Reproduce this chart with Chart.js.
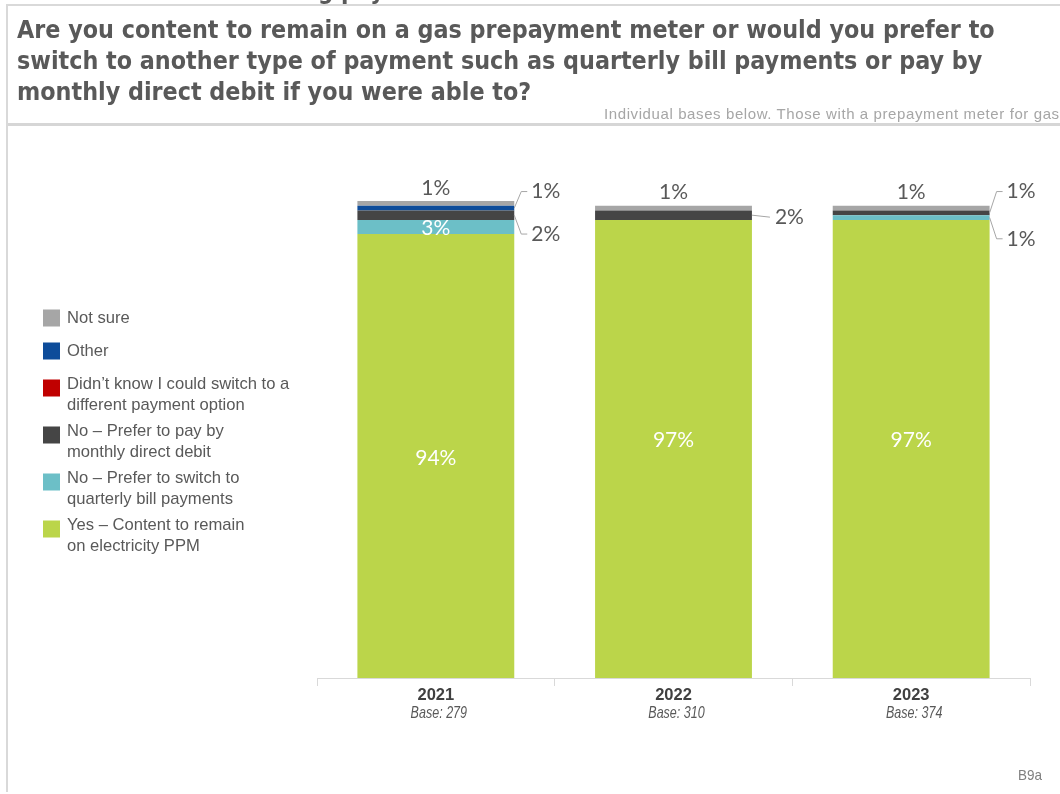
<!DOCTYPE html>
<html>
<head>
<meta charset="utf-8">
<script src="https://cdn.jsdelivr.net/npm/chart.js@4.4.1/dist/chart.umd.min.js"></script>
<style>
  html, body { margin: 0; padding: 0; background: #ffffff; width: 1060px; height: 794px; overflow: hidden; }
  #page { position: relative; width: 1060px; height: 794px; overflow: hidden; }
  #chart { position: absolute; left: 0; top: 0; }
  .frame-top { position: absolute; left: 6px; top: 4px; width: 1054px; height: 2px; background: #d9d9d9; }
  .frame-left { position: absolute; left: 6px; top: 4px; width: 2px; height: 788px; background: #d9d9d9; }
  .rule { position: absolute; left: 8px; top: 123px; width: 1052px; height: 3px; background: #d6d6d6; }
  .prev { position: absolute; left: 318px; top: -24px; white-space: nowrap;
          font-family: "DejaVu Sans Condensed", "DejaVu Sans", sans-serif; font-stretch: condensed;
          font-weight: bold; font-size: 24px; line-height: 31px; color: #595959; }
  .title { position: absolute; left: 17px; top: 14px; width: 1040px; white-space: nowrap;
           font-family: "DejaVu Sans Condensed", "DejaVu Sans", sans-serif; font-stretch: condensed;
           font-weight: bold; font-size: 24.8px; line-height: 31px; color: #595959; }
  .bases-note { position: absolute; left: 604px; top: 105px; white-space: nowrap;
                font-family: "Liberation Sans", Arial, sans-serif; font-size: 15px; letter-spacing: 0.6px; color: #a6a6a6; }
  .slide-code { position: absolute; left: 1018px; top: 766px; transform-origin: 0 0; transform: scaleX(0.9);
                font-family: "Liberation Sans", Arial, sans-serif; font-size: 15px; color: #7f7f7f; }
</style>
</head>
<body>
<div id="page">
  <canvas id="chart" width="1060" height="794"></canvas>
  <div class="prev">g payment</div>
  <div class="frame-top"></div>
  <div class="frame-left"></div>
  <div class="title">Are you content to remain on a gas prepayment meter or would you prefer to<br>switch to another type of payment such as quarterly bill payments or pay by<br>monthly direct debit if you were able to?</div>
  <div class="rule"></div>
  <div class="bases-note">Individual bases below. Those with a prepayment meter for gas</div>
  <div class="slide-code">B9a</div>
</div>
<script>
// Survey waves and their base sizes
const years = ['2021', '2022', '2023'];
const bases = [279, 310, 374];

// Share of respondents (%) per answer, per wave
const contentPPM   = [94, 97, 97];
const quarterly    = [3, 0, 1];
const directDebit  = [2, 2, 1];
const didntKnow    = [0, 0, 0];
const otherAnswer  = [1, 0, 0];
const notSure      = [1, 1, 1];

// Legend wording (bottom of the stack first, matching dataset order)
const answerLabels = [
  ['Yes \u2013 Content to remain', 'on electricity PPM'],
  ['No \u2013 Prefer to switch to', 'quarterly bill payments'],
  ['No \u2013 Prefer to pay by', 'monthly direct debit'],
  ['Didn\u2019t know I could switch to a', 'different payment option'],
  ['Other'],
  ['Not sure']
];
const answerColors = ['#bbd54a', '#6cbfc7', '#454545', '#c00000', '#0d4c9a', '#a6a6a6'];

// Where each value label sits, per dataset and per wave
// (callouts: "at" is the scale value the label text lines up with)
const labelPlacement = [
  [{ pos: 'inside', dy: 2 }, { pos: 'inside', dy: -9 }, { pos: 'inside', dy: -9 }],
  [{ pos: 'inside', dy: 1 }, null, { pos: 'rightDown', at: 93 }],
  [{ pos: 'rightDown', at: 94 }, { pos: 'right' }, { pos: 'rightUp', at: 103 }],
  [null, null, null],
  [{ pos: 'rightUp', at: 103 }, null, null],
  [{ pos: 'top' }, { pos: 'top' }, { pos: 'top' }]
];

const seriesValues = [contentPPM, quarterly, directDebit, didntKnow, otherAnswer, notSure];

const datasets = seriesValues.map((vals, i) => ({
  label: answerLabels[i].join(' '),
  data: vals,
  backgroundColor: answerColors[i],
  borderWidth: 0,
  barPercentage: 0.66,
  categoryPercentage: 1.0
}));

const LABEL_FONT = '21px Lato, "Open Sans", sans-serif';
const LEADER = '#a6a6a6';

const annotations = {
  id: 'annotations',
  afterDatasetsDraw(chart) {
    const ctx = chart.ctx;
    const y = chart.scales.y;
    ctx.save();
    ctx.font = LABEL_FONT;
    ctx.textBaseline = 'middle';
    chart.data.datasets.forEach((ds, di) => {
      const meta = chart.getDatasetMeta(di);
      meta.data.forEach((bar, ci) => {
        const place = labelPlacement[di][ci];
        const v = ds.data[ci];
        if (!place || !v) return;
        const text = v + '%';
        const p = bar.getProps(['x', 'y', 'base', 'width'], true);
        const top = Math.min(p.y, p.base);
        const bottom = Math.max(p.y, p.base);
        const mid = (top + bottom) / 2;
        const right = p.x + p.width / 2;
        if (place.pos === 'inside') {
          ctx.fillStyle = '#ffffff';
          ctx.textAlign = 'center';
          ctx.fillText(text, p.x, mid + (place.dy || 0));
        } else if (place.pos === 'top') {
          ctx.fillStyle = '#595959';
          ctx.textAlign = 'center';
          ctx.fillText(text, p.x, top - 13);
        } else {
          const ty = place.at !== undefined ? y.getPixelForValue(place.at) : mid + 2;
          ctx.strokeStyle = LEADER;
          ctx.lineWidth = 1;
          ctx.beginPath();
          if (place.pos === 'right') {
            ctx.moveTo(right, mid);
            ctx.lineTo(right + 18, ty);
          } else {
            ctx.moveTo(right, mid);
            ctx.lineTo(right + 7, ty);
            ctx.lineTo(right + 13, ty);
          }
          ctx.stroke();
          ctx.fillStyle = '#595959';
          ctx.textAlign = 'left';
          ctx.fillText(text, right + (place.pos === 'right' ? 23 : 17), ty);
        }
      });
    });

    // Base sizes under each wave (narrowed italic)
    const x = chart.scales.x;
    ctx.font = 'italic 16.5px "Liberation Sans", Arial, sans-serif';
    ctx.fillStyle = '#595959';
    ctx.textAlign = 'center';
    years.forEach((yr, i) => {
      const cx = x.getPixelForValue(i) + 3;
      ctx.save();
      ctx.translate(cx, 713);
      ctx.scale(0.76, 1);
      ctx.fillText('Base: ' + bases[i], 0, 0);
      ctx.restore();
    });

    // Legend, listed top of stack first
    ctx.font = '16.6px "Liberation Sans", Arial, sans-serif';
    ctx.textAlign = 'left';
    let ly = 318;
    for (let i = answerLabels.length - 1; i >= 0; i--) {
      const lines = answerLabels[i];
      const sqCenter = lines.length > 1 ? ly + 4 : ly;
      ctx.fillStyle = answerColors[i];
      ctx.fillRect(43, sqCenter - 8.5, 17, 17);
      ctx.fillStyle = '#595959';
      lines.forEach((ln, k) => ctx.fillText(ln, 67, ly + k * 21.5));
      ly += lines.length > 1 ? 47 : 33;
    }
    ctx.restore();
  }
};

new Chart(document.getElementById('chart'), {
  type: 'bar',
  data: { labels: years, datasets },
  options: {
    responsive: false,
    animation: false,
    layout: { padding: { left: 317, right: 30, top: 201, bottom: 0 } },
    plugins: { legend: { display: false }, tooltip: { enabled: false } },
    scales: {
      x: {
        stacked: true,
        afterFit(scale) { scale.height = 116; },
        grid: { offset: true, drawOnChartArea: false, drawTicks: true, tickLength: 8, color: '#d9d9d9' },
        border: { display: true, color: '#d9d9d9', width: 1 },
        ticks: {
          padding: 0,
          color: '#404040',
          font: { family: '"Liberation Sans", Arial, sans-serif', size: 16.5, weight: 'bold' }
        }
      },
      y: {
        stacked: true,
        display: false,
        min: 0,
        max: 101
      }
    }
  },
  plugins: [annotations]
});
</script>
</body>
</html>
